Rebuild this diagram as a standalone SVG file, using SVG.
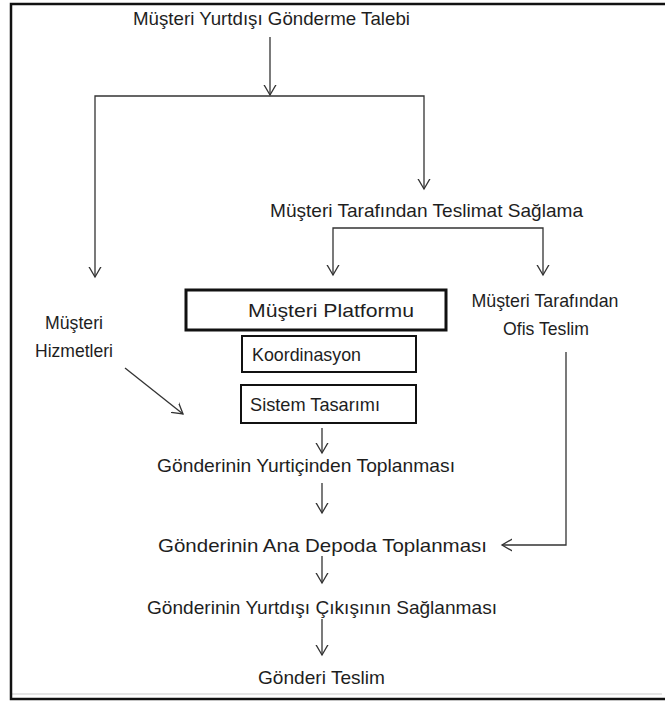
<svg xmlns="http://www.w3.org/2000/svg" width="665" height="702" viewBox="0 0 665 702">
  <style>
    .lbl { font-family: "Liberation Sans", Arial, sans-serif; font-size: 19px; fill: #1e1e1e; }
    .mid { text-anchor: middle; }
    .conn { fill: none; stroke: #333; stroke-width: 1.3; }
    .box { fill: #fff; stroke: #111; stroke-width: 2; }
    .box-thick { fill: #fff; stroke: #111; stroke-width: 3; }
  </style>
  <defs>
    <marker id="arr" viewBox="0 0 20 20" refX="10" refY="10" markerWidth="20" markerHeight="20" markerUnits="userSpaceOnUse" orient="auto">
      <polyline points="-2,3 10,10 -2,17" fill="none" stroke="#333" stroke-width="1.3"/>
    </marker>
  </defs>

  <rect width="665" height="702" fill="#fff"/>
  <!-- page frame, open on the right -->
  <g id="frame">
    <line x1="662" y1="694" x2="12" y2="694" stroke="#ddd" stroke-width="1.5"/>
    <path d="M665,4 H11 V699 H665" fill="none" stroke="#111" stroke-width="2.5"/>
  </g>

  <g id="connectors">
    <line class="conn" x1="270" y1="37" x2="270" y2="95" marker-end="url(#arr)"/>
    <path class="conn" d="M270,96 H95 V277" marker-end="url(#arr)"/>
    <path class="conn" d="M270,96 H424 V189" marker-end="url(#arr)"/>
    <path class="conn" d="M438,228 H333 V275" marker-end="url(#arr)"/>
    <path class="conn" d="M438,228 H543 V275" marker-end="url(#arr)"/>
    <line class="conn" x1="125" y1="368" x2="183" y2="414" marker-end="url(#arr)"/>
    <line class="conn" x1="322" y1="428" x2="322" y2="453" marker-end="url(#arr)"/>
    <line class="conn" x1="322" y1="483" x2="322" y2="513" marker-end="url(#arr)"/>
    <path class="conn" d="M566,352 V545 H502" marker-end="url(#arr)"/>
    <line class="conn" x1="322" y1="556" x2="322" y2="583" marker-end="url(#arr)"/>
    <line class="conn" x1="322" y1="619" x2="322" y2="655" marker-end="url(#arr)"/>
  </g>

  <g id="n-talep"><text class="lbl" x="133" y="25" textLength="277" lengthAdjust="spacingAndGlyphs">Müşteri Yurtdışı Gönderme Talebi</text></g>
  <g id="n-teslimat"><text class="lbl" x="270" y="217" textLength="313" lengthAdjust="spacingAndGlyphs">Müşteri Tarafından Teslimat Sağlama</text></g>
  <g id="n-hizmet">
    <text class="lbl mid" x="74" y="329" textLength="58" lengthAdjust="spacingAndGlyphs">Müşteri</text>
    <text class="lbl mid" x="74" y="357" textLength="78" lengthAdjust="spacingAndGlyphs">Hizmetleri</text>
  </g>
  <g id="n-platform">
    <rect class="box-thick" x="186" y="290" width="260" height="40"/>
    <text class="lbl" x="248" y="317" textLength="166" lengthAdjust="spacingAndGlyphs">Müşteri  Platformu</text>
  </g>
  <g id="n-ofis">
    <text class="lbl mid" x="545" y="307" textLength="147" lengthAdjust="spacingAndGlyphs">Müşteri Tarafından</text>
    <text class="lbl mid" x="546" y="335" textLength="86" lengthAdjust="spacingAndGlyphs">Ofis Teslim</text>
  </g>
  <g id="n-koord">
    <rect class="box" x="242" y="336" width="174" height="36"/>
    <text class="lbl" x="252" y="361" textLength="109" lengthAdjust="spacingAndGlyphs">Koordinasyon</text>
  </g>
  <g id="n-sistem">
    <rect class="box" x="241" y="385" width="175" height="38"/>
    <text class="lbl" x="250" y="411" textLength="130" lengthAdjust="spacingAndGlyphs">Sistem Tasarımı</text>
  </g>
  <g id="n-yurtici"><text class="lbl" x="157" y="472" textLength="298" lengthAdjust="spacingAndGlyphs">Gönderinin Yurtiçinden Toplanması</text></g>
  <g id="n-depo"><text class="lbl" x="158" y="552" textLength="329" lengthAdjust="spacingAndGlyphs">Gönderinin Ana Depoda Toplanması</text></g>
  <g id="n-cikis"><text class="lbl" x="147" y="614" textLength="350" lengthAdjust="spacingAndGlyphs">Gönderinin Yurtdışı Çıkışının Sağlanması</text></g>
  <g id="n-teslim"><text class="lbl" x="258" y="684" textLength="127" lengthAdjust="spacingAndGlyphs">Gönderi Teslim</text></g>
</svg>
